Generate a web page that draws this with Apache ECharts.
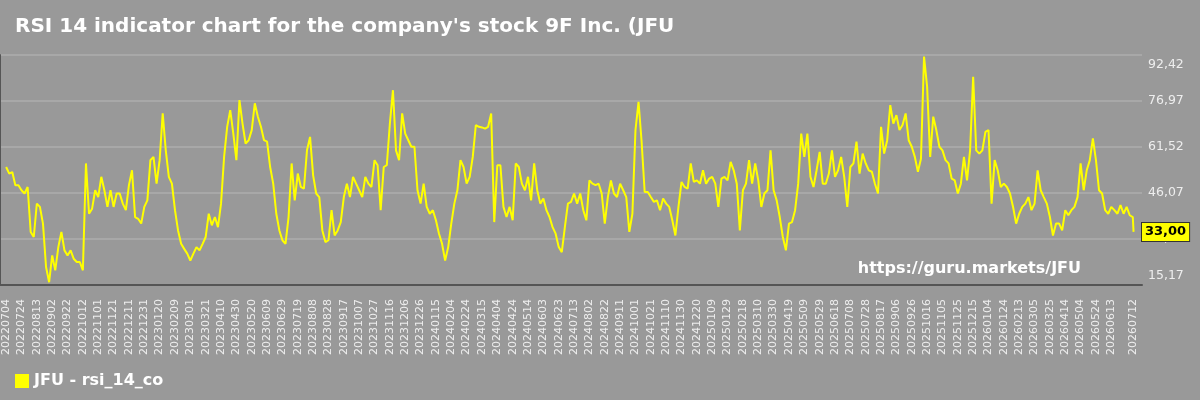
<!DOCTYPE html>
<html>
<head>
<meta charset="utf-8">
<script src="https://cdn.jsdelivr.net/npm/echarts@6/dist/echarts.min.js"></script>
<style>
  html, body { margin: 0; padding: 0; background: #999999; }
  #chart { width: 1200px; height: 400px; }
</style>
</head>
<body>
<div id="chart"></div>
<script>
// chart text
var titleText = "RSI 14 indicator chart for the company's stock 9F Inc. (JFU";
var seriesName = "JFU - rsi_14_co";
var watermark = "https://guru.markets/JFU";

// calendar range of the x axis (one category per day)
var firstDate = "2022-07-04";
var lastDate = "2026-07-12";
var labelEvery = 20;

// y axis ticks
var yMin = 15.17;
var yMax = 92.42;
var yStep = 15.45;

// rsi, one reading every 4 days, last one on the final day
var sampleStep = 4;
var rsiValues = [
  54.8, 52.6, 53.1, 48.7, 48.7, 47.0, 45.9, 48.1, 33.0, 31.3,
  42.5, 41.4, 35.8, 21.2, 16.1, 25.1, 20.1, 27.9, 33.0, 26.8,
  25.1, 26.8, 24.0, 22.9, 22.9, 20.1, 56.0, 39.1, 40.8, 47.0,
  44.7, 51.5, 47.0, 41.4, 47.0, 41.4, 45.9, 45.9, 42.5, 40.3,
  48.7, 53.7, 38.0, 37.4, 35.8, 41.4, 43.6, 57.1, 58.2, 49.2,
  57.1, 72.8, 60.4, 51.5, 49.2, 40.3, 33.5, 29.0, 27.3, 25.7,
  23.4, 25.7, 27.9, 26.8, 29.0, 31.3, 39.1, 35.2, 38.0, 34.6,
  42.5, 58.2, 68.3, 73.9, 66.0, 57.1, 77.3, 69.4, 62.7, 63.8,
  67.2, 76.2, 71.7, 68.3, 63.8, 63.3, 54.8, 49.2, 39.1, 33.5,
  30.2, 29.0, 38.0, 56.0, 43.6, 52.6, 48.1, 47.5, 60.4, 64.9,
  52.0, 45.9, 44.7, 33.5, 29.6, 30.2, 40.3, 31.8, 33.5, 36.3,
  44.7, 49.2, 44.7, 51.5, 49.2, 47.0, 44.7, 51.5, 49.2, 48.1,
  57.1, 55.4, 40.3, 54.8, 55.4, 69.4, 80.6, 60.4, 57.1, 72.8,
  66.0, 63.8, 61.6, 61.6, 47.0, 42.5, 49.2, 41.4, 39.1, 40.3,
  36.9, 32.4, 29.0, 23.4, 27.9, 35.8, 42.5, 47.0, 57.1, 54.8,
  49.2, 51.5, 58.2, 68.9, 68.3, 68.1, 67.7, 68.3, 72.8, 36.3,
  55.4, 55.4, 41.4, 38.0, 41.4, 36.9, 56.0, 54.8, 49.2, 47.0,
  51.5, 43.6, 56.0, 47.0, 42.5, 44.2, 40.3, 38.0, 34.6, 32.4,
  27.9, 26.2, 34.6, 42.5, 43.1, 45.9, 42.5, 45.9, 40.3, 36.9,
  50.3, 49.2, 48.7, 49.2, 45.9, 35.8, 44.7, 50.3, 45.9, 44.7,
  49.2, 47.0, 44.7, 33.0, 39.1, 67.2, 76.7, 63.3, 46.4, 46.4,
  44.7, 43.1, 43.6, 40.3, 44.2, 42.5, 41.4, 36.9, 31.8, 41.4,
  49.8, 48.1, 47.5, 56.0, 49.8, 50.3, 49.2, 53.7, 49.2, 50.9,
  51.5, 49.2, 41.4, 50.9, 51.5, 50.3, 56.5, 53.7, 49.2, 33.5,
  47.0, 49.2, 57.1, 49.2, 56.0, 50.3, 41.4, 45.9, 47.0, 60.4,
  47.0, 43.6, 38.0, 31.3, 26.8, 35.8, 36.3, 40.3, 49.2, 66.0,
  58.2, 66.0, 51.5, 48.1, 53.7, 59.9, 49.2, 49.2, 52.6, 60.4,
  51.5, 53.7, 58.2, 51.5, 41.4, 54.8, 56.0, 63.3, 52.6, 59.3,
  56.0, 53.7, 53.2, 49.2, 45.9, 68.3, 59.3, 63.8, 75.6, 69.4,
  72.2, 67.2, 68.9, 72.8, 63.8, 61.6, 58.2, 53.2, 57.6, 91.9,
  81.8, 58.2, 71.7, 67.2, 61.6, 60.4, 57.1, 56.0, 50.9, 50.3,
  45.9, 49.2, 58.2, 50.3, 60.4, 85.1, 60.4, 59.3, 60.4, 66.6,
  67.2, 42.5, 57.1, 53.7, 48.1, 49.2, 48.1, 45.9, 41.4, 35.8,
  39.1, 41.4, 42.5, 44.7, 40.3, 42.5, 53.7, 47.0, 44.7, 42.5,
  38.0, 31.8, 35.8, 35.8, 33.5, 40.3, 38.6, 40.3, 41.4, 44.7,
  56.0, 47.0, 53.7, 57.1, 64.4, 57.1, 47.0, 45.9, 40.3, 39.1,
  41.4, 40.3, 39.1, 42.0, 39.1, 41.4, 38.6, 38.0,
  33.0
];

function dayList(from, to) {
  var out = [];
  var d = new Date(from + "T00:00:00Z");
  var end = new Date(to + "T00:00:00Z");
  while (d <= end) {
    var s = d.toISOString().slice(0, 10).replace(/-/g, "");
    out.push(s);
    d.setUTCDate(d.getUTCDate() + 1);
  }
  return out;
}

function comma(v) {
  return Number(v).toFixed(2).replace(".", ",");
}

var dates = dayList(firstDate, lastDate);
var lastIdx = dates.length - 1;
var seriesData = rsiValues.map(function (v, i) {
  return [dates[Math.min(i * sampleStep, lastIdx)], v];
});
var lastValue = rsiValues[rsiValues.length - 1];

var chart = echarts.init(document.getElementById("chart"));
var font = "DejaVu Sans";

chart.setOption({
  animation: false,
  backgroundColor: "#999999",
  textStyle: { fontFamily: font },
  title: {
    text: titleText,
    left: 10,
    top: 12,
    textStyle: { color: "#ffffff", fontSize: 20, fontWeight: "bold", fontFamily: font }
  },
  legend: {
    left: 10,
    top: 368,
    icon: "rect",
    itemWidth: 14,
    itemHeight: 14,
    itemGap: 6,
    textStyle: { color: "#ffffff", fontSize: 16, fontWeight: "bold", fontFamily: font },
    data: [seriesName]
  },
  grid: { left: 0, right: 58, top: 55, bottom: 115 },
  xAxis: {
    type: "category",
    data: dates,
    boundaryGap: false,
    min: -8,
    max: lastIdx + 11,
    axisLine: { lineStyle: { color: "#555555", width: 2 } },
    axisTick: { show: false },
    splitLine: { show: false },
    axisLabel: {
      rotate: 90,
      margin: 14,
      color: "#eeeeee",
      fontSize: 11,
      fontFamily: font,
      interval: function (index) {
        if (index < 0 || index > lastIdx) return false;
        if (index === lastIdx) return true;
        return index % labelEvery === 0 && index < lastIdx - labelEvery / 2;
      }
    }
  },
  yAxis: [
    {
      type: "value",
      position: "right",
      min: yMin,
      max: yMax,
      interval: yStep,
      axisLine: { show: false },
      axisTick: { show: false },
      splitLine: { lineStyle: { color: "#a8a8a8", width: 2 } },
      axisLabel: {
        color: "#eeeeee",
        fontSize: 12.5,
        margin: 6,
        padding: [3, 0, 3, 0],
        fontFamily: font,
        verticalAlignMinLabel: "bottom",
        verticalAlignMaxLabel: "top",
        formatter: comma
      }
    },
    {
      type: "value",
      position: "left",
      min: yMin,
      max: yMax,
      interval: yStep,
      axisLine: { show: true, lineStyle: { color: "#555555", width: 2 } },
      axisTick: { show: false },
      axisLabel: { show: false },
      splitLine: { show: false }
    }
  ],
  graphic: [
    {
      type: "text",
      right: 119,
      top: 261,
      style: {
        text: watermark,
        fill: "#ffffff",
        font: "bold 16px 'DejaVu Sans'"
      }
    }
  ],
  series: [
    {
      name: seriesName,
      type: "line",
      data: seriesData,
      showSymbol: false,
      symbol: "none",
      lineStyle: { color: "#ffff00", width: 2 },
      itemStyle: { color: "#ffff00" },
      markLine: {
        silent: true,
        symbol: ["none", "none"],
        lineStyle: { color: "rgba(0,0,0,0)", width: 1, type: "solid" },
        label: {
          show: true,
          position: "end",
          distance: 0,
          formatter: function (p) { return comma(p.value); },
          backgroundColor: "#ffff00",
          borderColor: "#333333",
          borderWidth: 1,
          padding: [3, 3, 2, 3],
          color: "#000000",
          fontSize: 13,
          fontWeight: "bold",
          fontFamily: font
        },
        data: [{ yAxis: lastValue }]
      }
    }
  ]
});
</script>
</body>
</html>
